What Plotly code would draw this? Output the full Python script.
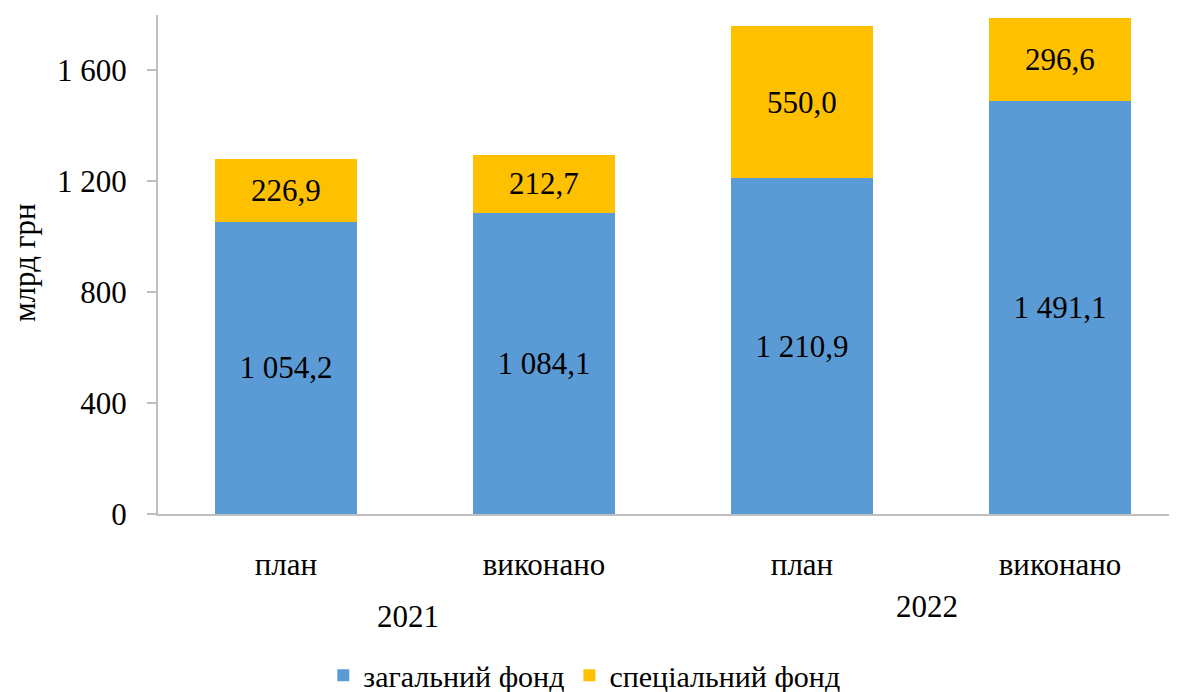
import plotly.graph_objects as go

categories = ["план", "виконано", "план", "виконано"]
years = ["2021", "2022"]
general_fund = [1054.2, 1084.1, 1210.9, 1491.1]
special_fund = [226.9, 212.7, 550.0, 296.6]
y_ticks = [0, 400, 800, 1200, 1600]

FONT = "Liberation Serif"
FS = 31


def fmt(v):
    s = f"{v:,.1f}".replace(",", " ").replace(".", ",")
    return s


def fmt_int(v):
    return f"{v:,}".replace(",", " ")


xpos = list(range(len(categories)))

fig = go.Figure()
fig.add_trace(go.Bar(
    x=xpos, y=general_fund, name="загальний фонд",
    marker=dict(color="#5B9BD5", line=dict(width=0)),
    text=[fmt(v) for v in general_fund], textposition="inside",
    insidetextanchor="middle", constraintext="none",
    textfont=dict(family=FONT, size=FS, color="black"),
    width=0.553, hoverinfo="skip",
))
fig.add_trace(go.Bar(
    x=xpos, y=special_fund, name="спеціальний фонд",
    marker=dict(color="#FFC000", line=dict(width=0)),
    text=[fmt(v) for v in special_fund], textposition="inside",
    insidetextanchor="middle", constraintext="none",
    textfont=dict(family=FONT, size=FS, color="black"),
    width=0.553, hoverinfo="skip",
))

annotations = [
    dict(x=0.473, y=-0.206, xref="x", yref="paper", text=years[0], showarrow=False,
         font=dict(family=FONT, size=FS, color="black"), yanchor="middle"),
    dict(x=2.485, y=-0.186, xref="x", yref="paper", text=years[1], showarrow=False,
         font=dict(family=FONT, size=FS, color="black"), yanchor="middle"),
    dict(x=-0.132, y=0.503, xref="paper", yref="paper", text="млрд грн", showarrow=False,
         textangle=-90, font=dict(family=FONT, size=FS, color="black"),
         xanchor="center", yanchor="middle"),
]

fig.update_layout(
    width=1169, height=684,
    barmode="stack",
    paper_bgcolor="white", plot_bgcolor="white",
    margin=dict(l=150, r=4, t=7, b=178, autoexpand=False),
    font=dict(family=FONT, size=FS, color="black"),
    showlegend=True,
    legend=dict(orientation="h", x=0.42, y=-0.323, xanchor="center", yanchor="middle",
                font=dict(family=FONT, size=30, color="black"),
                itemsizing="constant", traceorder="normal"),
    annotations=annotations,
    xaxis=dict(
        range=[-0.496, 3.438], tickmode="array", tickvals=xpos, ticktext=categories,
        showline=True, linecolor="#BFBFBF", linewidth=2, ticks="", showgrid=False,
        zeroline=False, ticklabelstandoff=22,
        tickfont=dict(family=FONT, size=FS, color="black"),
    ),
    yaxis=dict(
        range=[0, 1800], tickmode="array", tickvals=y_ticks,
        ticktext=[fmt_int(v) for v in y_ticks],
        showline=True, linecolor="#BFBFBF", linewidth=2, ticks="outside",
        ticklen=9, tickcolor="#BFBFBF", tickwidth=2, showgrid=False, zeroline=False,
        ticklabelstandoff=14,
        tickfont=dict(family=FONT, size=FS, color="black"),
    ),
)

fig.write_html("out.html")
